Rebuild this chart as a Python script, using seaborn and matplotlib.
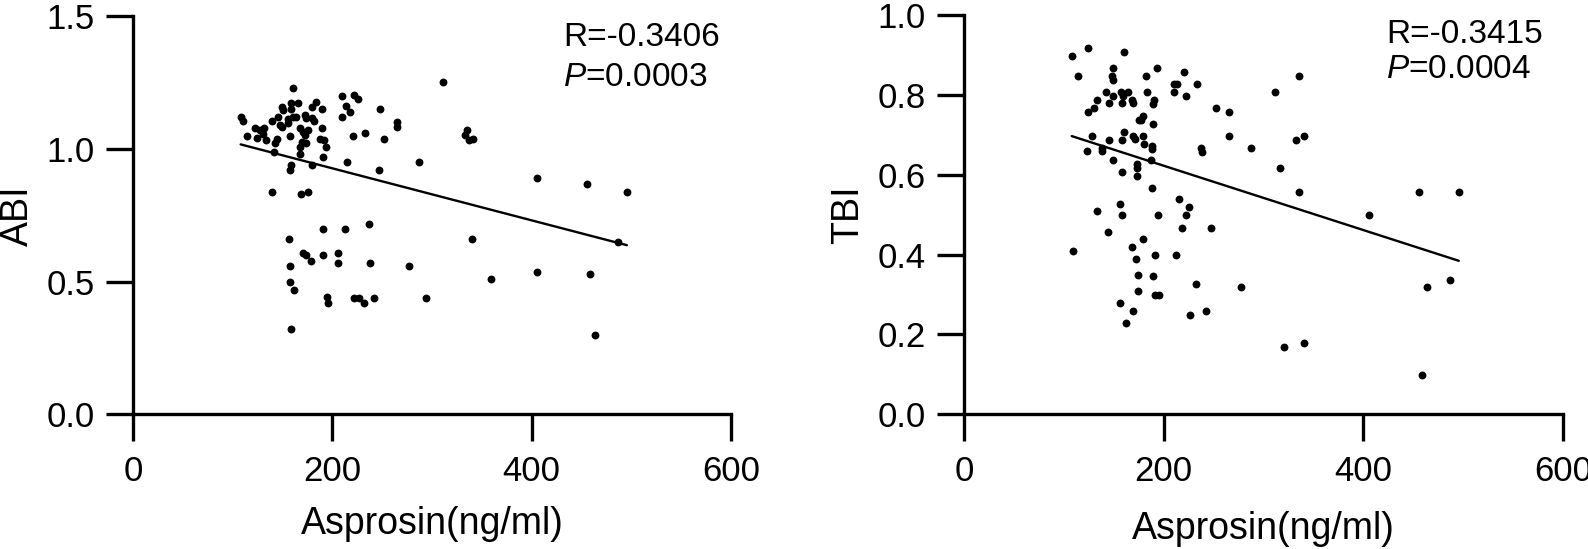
import numpy as np
import pandas as pd
import matplotlib
matplotlib.use('Agg')
import matplotlib.pyplot as plt
import seaborn as sns

# left panel: Asprosin vs ABI
asp_abi = [108, 110, 114, 122.5, 127, 131.5, 124.8, 130, 133.5, 139, 145, 149.3, 150.3, 158.3,
           166, 156, 161, 149.3, 157.6, 144.3, 142.6, 141.6, 139.3, 160.3, 159, 156, 147.6,
           163.6, 172.7, 173.7, 180, 182, 179.4, 184, 189.5, 210, 222, 226, 213.5, 218, 210,
           248, 265.4, 265.4, 233, 220.6, 252, 335, 333, 337, 341, 311.6, 167.7, 170.4, 176,
           172.7, 169.3, 173.7, 167.7, 189.5, 187.8, 191.8, 193.5, 191, 167.7, 159, 157.6,
           179.4, 215, 247, 287.5, 168.7, 176, 405, 456, 495.7, 487, 157, 191, 213, 237,
           340.7, 171, 174, 179, 190.4, 205.5, 206, 157.6, 238, 277, 157.6, 162, 359.4, 405,
           458.8, 194.4, 196, 222, 227, 232, 242, 294, 158.6, 464]
abi = [1.12, 1.107, 1.05, 1.078, 1.072, 1.078, 1.04, 1.057, 1.034, 1.107, 1.12, 1.159, 1.147,
       1.172, 1.172, 1.112, 1.12, 1.084, 1.049, 1.037, 1.021, 0.99, 0.839, 1.231, 1.15, 1.097,
       1.09, 1.12, 1.128, 1.116, 1.116, 1.105, 1.159, 1.178, 1.15, 1.201, 1.204, 1.188, 1.163,
       1.141, 1.12, 1.15, 1.103, 1.082, 1.062, 1.049, 1.038, 1.072, 1.053, 1.034, 1.038, 1.251,
       1.078, 1.065, 1.072, 1.053, 1.028, 1.021, 1.009, 1.078, 1.037, 1.034, 1.009, 0.971,
       0.981, 0.94, 0.92, 0.94, 0.95, 0.921, 0.95, 0.829, 0.839, 0.889, 0.868, 0.839, 0.651,
       0.66, 0.698, 0.698, 0.717, 0.66, 0.609, 0.6, 0.579, 0.6, 0.609, 0.571, 0.559, 0.571,
       0.559, 0.5, 0.469, 0.509, 0.538, 0.53, 0.441, 0.418, 0.438, 0.438, 0.418, 0.438, 0.438,
       0.32, 0.299]

# right panel: Asprosin vs TBI
asp_tbi = [108, 124.5, 160.3, 114, 149, 148.6, 149, 142, 149.6, 157.3, 159.6, 164.6, 133.6,
           145.3, 158.6, 168, 169, 124.5, 130.3, 175.7, 128.6, 145.3, 158, 160.6, 169, 171.3,
           123, 138.6, 138.6, 149, 173, 173.6, 173.6, 158.6, 156.3, 133.6, 158, 144.3, 109,
           168.3, 172, 174, 174.7, 156.3, 169, 162.3, 193.7, 182, 220.7, 183.7, 210.4, 213.7,
           210.4, 233, 222.4, 190.7, 189.7, 312, 335.7, 252.2, 265.5, 179.7, 177, 189.7, 179,
           180.4, 188.7, 188.7, 187, 237.5, 238.2, 265.5, 287.6, 332.7, 341, 316.3, 188.7,
           335.7, 456, 495.7, 405.8, 215.4, 225.8, 222.2, 194.4, 218, 247, 179, 191.4, 212.7,
           189.4, 191.4, 195.7, 232.5, 277.3, 226.5, 242, 320.3, 340.7, 459, 464.2, 487.3]
tbi = [0.898, 0.917, 0.907, 0.847, 0.867, 0.848, 0.837, 0.807, 0.798, 0.807, 0.798, 0.807,
       0.787, 0.779, 0.779, 0.787, 0.779, 0.758, 0.767, 0.736, 0.697, 0.687, 0.687, 0.708,
       0.698, 0.69, 0.659, 0.667, 0.659, 0.638, 0.627, 0.617, 0.598, 0.606, 0.527, 0.508,
       0.498, 0.457, 0.408, 0.418, 0.388, 0.348, 0.308, 0.279, 0.259, 0.2275, 0.867, 0.847,
       0.857, 0.807, 0.827, 0.827, 0.807, 0.827, 0.797, 0.787, 0.777, 0.807, 0.847, 0.767,
       0.757, 0.748, 0.737, 0.727, 0.698, 0.677, 0.673, 0.665, 0.6375, 0.667, 0.657, 0.697,
       0.667, 0.687, 0.697, 0.617, 0.567, 0.557, 0.557, 0.557, 0.499, 0.538, 0.518, 0.499,
       0.499, 0.4675, 0.4675, 0.438, 0.398, 0.398, 0.3475, 0.298, 0.298, 0.3275, 0.318,
       0.249, 0.258, 0.169, 0.178, 0.098, 0.318, 0.3375]

x_ticks = [0, 200, 400, 600]
abi_ticks = [0.0, 0.5, 1.0, 1.5]
tbi_ticks = [0.0, 0.2, 0.4, 0.6, 0.8, 1.0]
stats_abi = ['R=-0.3406', '$\\it{P}$=0.0003']
stats_tbi = ['R=-0.3415', '$\\it{P}$=0.0004']

sns.set_style('ticks')
plt.rcParams['font.family'] = ['Liberation Sans', 'DejaVu Sans']
plt.rcParams['mathtext.fontset'] = 'custom'
plt.rcParams['mathtext.it'] = 'Liberation Sans:italic'
plt.rcParams['mathtext.rm'] = 'Liberation Sans'
plt.rcParams['text.color'] = 'black'
plt.rcParams['axes.labelcolor'] = 'black'
plt.rcParams['axes.edgecolor'] = 'black'
plt.rcParams['xtick.color'] = 'black'
plt.rcParams['ytick.color'] = 'black'

df_abi = pd.DataFrame({'Asprosin': asp_abi, 'ABI': abi})
df_tbi = pd.DataFrame({'Asprosin': asp_tbi, 'TBI': tbi})

fig = plt.figure(figsize=(15.88, 5.49), dpi=100)
ax1 = fig.add_axes([0.0838, 0.2454, 0.3764, 0.7249])
ax2 = fig.add_axes([0.607, 0.2454, 0.3772, 0.7273])

panels = [
    (ax1, df_abi, 'ABI', abi_ticks, stats_abi, (432, 1.42, 1.271), -0.162, -0.230),
    (ax2, df_tbi, 'TBI', tbi_ticks, stats_tbi, (423, 0.952, 0.863), -0.164, -0.243),
]

for ax, df, col, yt, stats, tpos, ylx, xly in panels:
    sns.regplot(data=df, x='Asprosin', y=col, ax=ax, ci=None, color='black',
                scatter_kws={'s': 32, 'linewidths': 0, 'alpha': 1},
                line_kws={'linewidth': 1.7})
    ax.set_xlim(0, 600)
    ax.set_ylim(yt[0], yt[-1])
    ax.set_xticks(x_ticks)
    ax.set_yticks(yt)
    ax.set_yticklabels([f'{v:.1f}' for v in yt])
    for s in ['top', 'right']:
        ax.spines[s].set_visible(False)
    for s in ['left', 'bottom']:
        ax.spines[s].set_linewidth(2.4)
        ax.spines[s].set_capstyle('projecting')
    ax.tick_params(length=19.5, width=2.4, labelsize=25, pad=8, colors='black')
    ax.tick_params(axis='x', pad=10)
    ax.set_xlabel('Asprosin(ng/ml)', fontsize=27)
    ax.set_ylabel(col, fontsize=27)
    ax.xaxis.set_label_coords(0.5, xly)
    ax.yaxis.set_label_coords(ylx, 0.5)
    ax.text(tpos[0], tpos[1], stats[0], fontsize=24, va='center', ha='left')
    ax.text(tpos[0], tpos[2], stats[1], fontsize=24, va='center', ha='left')
    for sp in ax.spines.values():
        sp.set_clip_on(False)

fig.savefig('out.png', dpi=100)
